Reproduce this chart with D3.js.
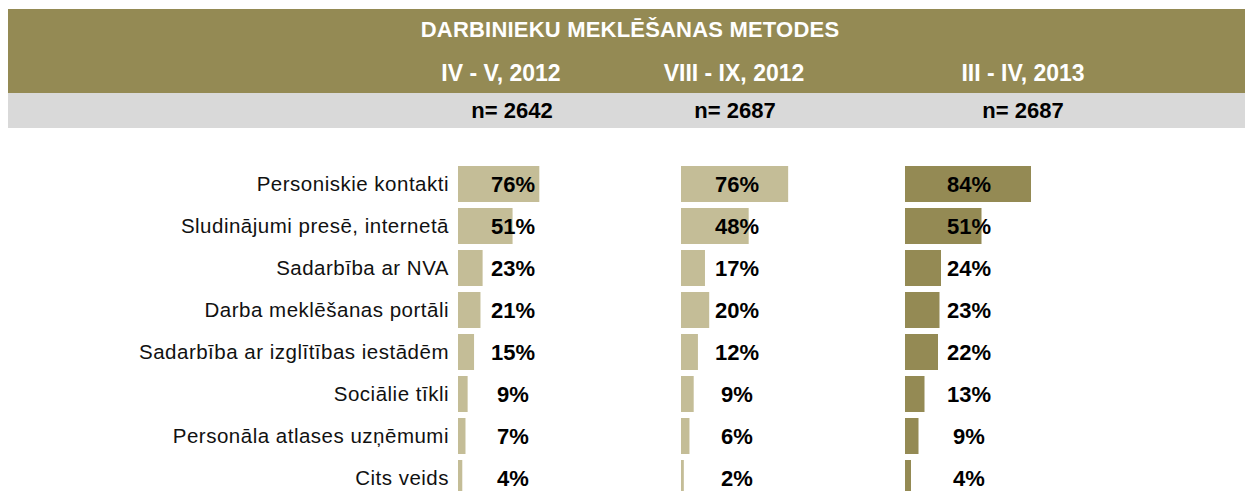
<!DOCTYPE html>
<html>
<head>
  <meta charset="utf-8">
  <style>
    body { margin: 0; background: #fff; }
    svg { display: block; font-family: "Liberation Sans", Arial, sans-serif; }
    .cat { font-size: 20.5px; fill: #111; letter-spacing: 0.5px; }
    .val { font-size: 22px; font-weight: bold; fill: #000; }
    .head { font-weight: bold; fill: #fff; }
    .n { font-size: 22px; font-weight: bold; fill: #000; }
  </style>
</head>
<body>
  <svg width="1245" height="491"></svg>
  <script src="https://d3js.org/d3.v7.min.js"></script>
  <script>
    const title = "DARBINIEKU MEKLĒŠANAS METODES";
    const categories = [
      "Personiskie kontakti",
      "Sludinājumi presē, internetā",
      "Sadarbība ar NVA",
      "Darba meklēšanas portāli",
      "Sadarbība ar izglītības iestādēm",
      "Sociālie tīkli",
      "Personāla atlases uzņēmumi",
      "Cits veids"
    ];
    const periods = ["IV - V, 2012", "VIII - IX, 2012", "III - IV, 2013"];
    const sampleSizes = [2642, 2687, 2687];
    const values2012a = [76, 51, 23, 21, 15, 9, 7, 4];
    const values2012b = [76, 48, 17, 20, 12, 9, 6, 2];
    const values2013 = [84, 51, 24, 23, 22, 13, 9, 4];

    // layout of the three panels (left edge of bars, width of 100%, label centres)
    const panels = [
      { values: values2012a, x0: 458, w: 107, labelX: 513, headX: 501, nX: 512, color: "#c4bd97" },
      { values: values2012b, x0: 681, w: 141, labelX: 737, headX: 734, nX: 735, color: "#c4bd97" },
      { values: values2013, x0: 905, w: 150, labelX: 969, headX: 1023, nX: 1023, color: "#948a54" }
    ];

    const svg = d3.select("svg");

    // header bands
    svg.append("rect").attr("x", 8).attr("y", 9).attr("width", 1237).attr("height", 84).attr("fill", "#948a54");
    svg.append("rect").attr("x", 8).attr("y", 93).attr("width", 1237).attr("height", 35).attr("fill", "#d9d9d9");

    svg.append("text").attr("class", "head")
      .attr("x", 630).attr("y", 37)
      .attr("text-anchor", "middle")
      .style("font-size", "22px")
      .style("letter-spacing", "0.2px")
      .text(title);

    svg.append("g").selectAll("text")
      .data(periods)
      .join("text")
      .attr("class", "head")
      .attr("x", (d, i) => panels[i].headX)
      .attr("y", 81)
      .attr("text-anchor", "middle")
      .style("font-size", "23px")
      .text(d => d);

    svg.append("g").selectAll("text")
      .data(sampleSizes)
      .join("text")
      .attr("class", "n")
      .attr("x", (d, i) => panels[i].nX)
      .attr("y", 118)
      .attr("text-anchor", "middle")
      .text(d => "n= " + d);

    const y = d3.scaleBand()
      .domain(categories)
      .range([166, 166 + 8 * 42 - 6])
      .paddingInner(6 / 42)
      .paddingOuter(0);

    svg.append("g").selectAll("text")
      .data(categories)
      .join("text")
      .attr("class", "cat")
      .attr("x", 449)
      .attr("y", d => y(d) + y.bandwidth() / 2)
      .attr("dy", "0.35em")
      .attr("text-anchor", "end")
      .text(d => d);

    panels.forEach(p => {
      const x = d3.scaleLinear().domain([0, 100]).range([p.x0, p.x0 + p.w]);
      const g = svg.append("g");
      g.selectAll("rect")
        .data(p.values)
        .join("rect")
        .attr("x", x(0))
        .attr("y", (d, i) => y(categories[i]))
        .attr("width", d => x(d) - x(0))
        .attr("height", y.bandwidth())
        .attr("fill", p.color);
      g.selectAll("text")
        .data(p.values)
        .join("text")
        .attr("class", "val")
        .attr("x", p.labelX)
        .attr("y", (d, i) => y(categories[i]) + y.bandwidth() / 2)
        .attr("dy", "0.36em")
        .attr("text-anchor", "middle")
        .text(d => d + "%");
    });
  </script>
</body>
</html>
